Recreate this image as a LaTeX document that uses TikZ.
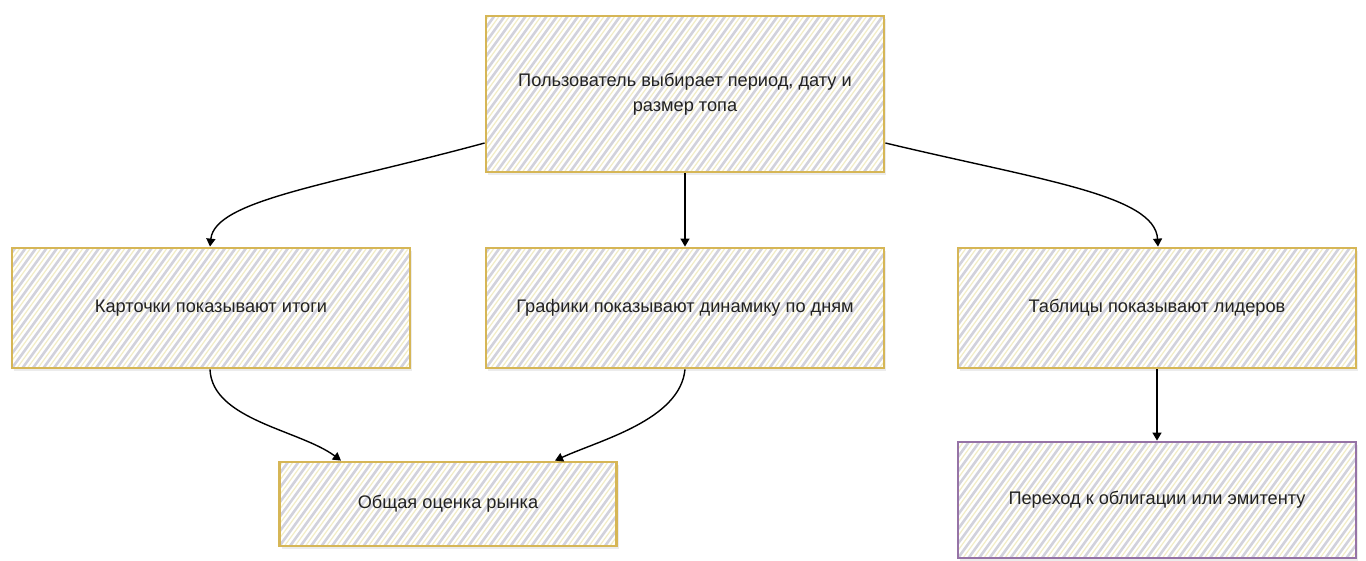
\documentclass[tikz,border=0pt]{standalone}
\usepackage{fontspec}
\setmainfont{Liberation Sans}
\usetikzlibrary{arrows.meta,shadows,calc}
\definecolor{goldline}{HTML}{D6B656}
\definecolor{purpline}{HTML}{9673A6}
\definecolor{hatchgray}{HTML}{D2D2DC}
\definecolor{hatchyel}{HTML}{F2EDC6}
\definecolor{txt}{HTML}{222222}
\tikzset{
  hatched/.style={path picture={
    \foreach \k in {-20,...,50}{
      \draw[hatchgray, line width=2.6pt] ([xshift=\k*10.5pt]path picture bounding box.south west) -- ++(54:260pt);
      \draw[hatchyel, line width=1.2pt] ([xshift=\k*10.5pt+5pt]path picture bounding box.south west) -- ++(54:260pt);
    }}},
  box/.style={rectangle, draw=goldline, line width=2.8pt, fill=white, hatched,
    drop shadow={opacity=0.15, shadow xshift=2pt, shadow yshift=-3pt},
    text=txt, font=\fontsize{18.2}{25}\selectfont, align=center, inner sep=0pt},
  pbox/.style={box, draw=purpline},
  conn/.style={draw=black, line width=1.4pt, -{Triangle[length=8pt,width=9pt]}}
}
\begin{document}
\begin{tikzpicture}[x=1pt,y=-1pt]
\useasboundingbox (0,0) rectangle (1366,560);
\node[box, minimum width=398pt, minimum height=156pt] (top) at (685,94) {Пользователь выбирает период, дату и\\размер топа};
\node[box, minimum width=398pt, minimum height=120pt] (cards) at (211,308) {Карточки показывают итоги};
\node[box, minimum width=398pt, minimum height=120pt] (charts) at (685,308) {Графики показывают динамику по дням};
\node[box, minimum width=398pt, minimum height=120pt] (tables) at (1157,308) {Таблицы показывают лидеров};
\node[box, minimum width=337pt, minimum height=84pt] (market) at (448,504) {Общая оценка рынка};
\node[pbox, minimum width=398pt, minimum height=116pt] (bond) at (1157,500) {Переход к облигации или эмитенту};
\draw[conn] ([yshift=-49pt]top.west) .. controls (330,185) and (215,200) .. ([xshift=-1pt]cards.north);
\draw[conn] (top.south) -- (charts.north);
\draw[conn] ([yshift=-49pt]top.east) .. controls (1040,180) and (1155,195) .. ([xshift=1pt]tables.north);
\draw[conn] ([xshift=-1pt]cards.south) .. controls (212,420) and (300,430) .. ([xshift=-107pt]market.north);
\draw[conn] (charts.south) .. controls (680,420) and (600,440) .. ([xshift=107pt]market.north);
\draw[conn] (tables.south) -- (bond.north);
\end{tikzpicture}
\end{document}
